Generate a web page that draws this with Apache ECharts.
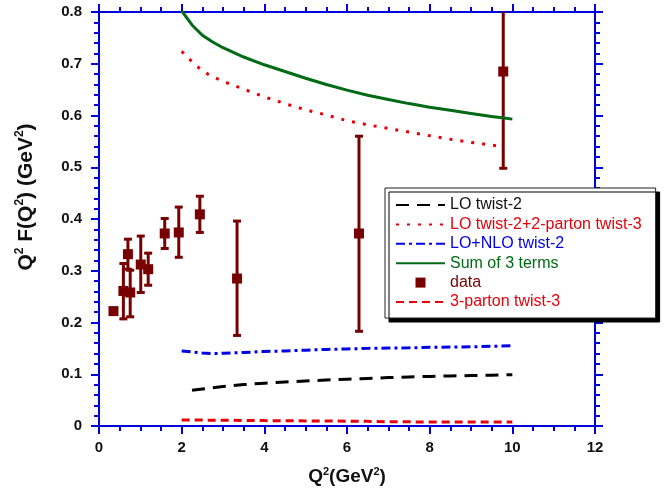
<!DOCTYPE html>
<html>
<head>
<meta charset="utf-8">
<script src="https://cdn.jsdelivr.net/npm/echarts@6/dist/echarts.min.js"></script>
<style>
  html, body { margin: 0; padding: 0; background: #fff; }
  #chart { width: 668px; height: 497px; }
</style>
</head>
<body>
<div id="chart"></div>
<script>
// measured points with error bars
var dataQ2 = [0.35, 0.59, 0.70, 0.755, 1.01, 1.19, 1.59, 1.93, 2.44, 3.34, 6.29, 9.78];
var dataF  = [0.222, 0.261, 0.332, 0.258, 0.312, 0.303, 0.372, 0.374, 0.409, 0.285, 0.372, 0.685];
var dataLo = [0.218, 0.207, 0.303, 0.211, 0.258, 0.272, 0.343, 0.326, 0.374, 0.175, 0.183, 0.498];
var dataHi = [0.226, 0.314, 0.361, 0.301, 0.367, 0.334, 0.401, 0.423, 0.444, 0.396, 0.560, 0.872];

// theory curves, on one Q2 grid (null = not drawn)
var curveQ2   = [2, 2.25, 2.5, 2.75, 3, 3.5, 4, 4.5, 5, 5.5, 6, 6.5, 7, 7.5, 8, 8.5, 9, 9.5, 9.75, 10];
var loTwist2  = [null, 0.069, 0.0715, 0.074, 0.0762, 0.080, 0.0828, 0.085, 0.087, 0.0888, 0.0905, 0.092, 0.0935, 0.0948, 0.0958, 0.0967, 0.0975, 0.0983, 0.0988, 0.0992];
var loPlus2p  = [0.724, 0.704, 0.686, 0.675, 0.666, 0.651, 0.636, 0.623, 0.611, 0.601, 0.590, 0.582, 0.575, 0.568, 0.561, 0.554, 0.548, 0.543, 0.540, null];
var nloTwist2 = [0.145, 0.143, 0.141, 0.140, 0.1405, 0.142, 0.144, 0.145, 0.1465, 0.148, 0.149, 0.150, 0.1505, 0.151, 0.152, 0.1525, 0.153, 0.154, 0.1545, 0.155];
var sum3      = [0.802, 0.775, 0.755, 0.742, 0.731, 0.713, 0.698, 0.685, 0.672, 0.660, 0.649, 0.639, 0.631, 0.623, 0.616, 0.610, 0.604, 0.598, 0.5955, 0.593];
var parton3   = [0.0116, 0.0115, 0.0114, 0.0113, 0.0112, 0.0108, 0.0104, 0.0101, 0.0099, 0.0097, 0.0094, 0.0090, 0.0082, 0.0080, 0.0078, 0.0078, 0.0077, 0.0077, 0.0076, 0.0076];

var legendNames = ['LO twist-2', 'LO twist-2+2-parton twist-3', 'LO+NLO twist-2', 'Sum of 3 terms', 'data', '3-parton twist-3'];

var BLUE = '#0000dd', RED = '#e5000b', DARKRED = '#780000', GREEN = '#006a14', LBLUE = '#0000e6';

function pairs(xs, ys) {
  var out = [];
  for (var i = 0; i < xs.length; i++) out.push([xs[i], ys[i] == null ? '-' : ys[i]]);
  return out;
}

var chart = echarts.init(document.getElementById('chart'));

var axisLine = { show: true, onZero: false, lineStyle: { color: BLUE, width: 2 } };
var axisTick = { show: true, inside: false, length: 8, lineStyle: { color: BLUE, width: 2 } };

var labelStyle = { color: '#111', fontSize: 15, fontWeight: 'bold', fontFamily: 'Liberation Sans' };
function titleRich(big, small) {
  return {
    b: { fontSize: big, fontWeight: 'bold', fontFamily: 'Liberation Sans', color: '#111', lineHeight: big + 3, verticalAlign: 'middle' },
    s: { fontSize: small, fontWeight: 'bold', fontFamily: 'Liberation Sans', color: '#111', verticalAlign: 'top' }
  };
}
var noSymbol = { opacity: 0 };

var option = {
  animation: false,
  backgroundColor: '#fff',
  grid: { left: 99, right: 73, top: 12, bottom: 71 },
  xAxis: [
    {
      type: 'value', min: 0, max: 12, interval: 2, position: 'bottom',
      axisLine: axisLine, axisTick: axisTick,
      minorTick: { show: true, splitNumber: 4, length: 5, lineStyle: { color: BLUE, width: 2 } },
      splitLine: { show: false },
      axisLabel: Object.assign({ margin: 14 }, labelStyle),
      name: '{b|Q}{s|2}{b|(GeV}{s|2}{b|)}',
      nameLocation: 'middle', nameGap: 40,
      nameTextStyle: { rich: titleRich(19, 11) }
    },
    {
      type: 'value', min: 0, max: 12, interval: 2, position: 'top',
      axisLine: axisLine, axisTick: axisTick,
      minorTick: { show: true, splitNumber: 4, length: 5, lineStyle: { color: BLUE, width: 2 } },
      axisLabel: { show: false }, splitLine: { show: false }
    }
  ],
  yAxis: [
    {
      type: 'value', min: 0, max: 0.8, interval: 0.1, position: 'left',
      axisLine: axisLine, axisTick: axisTick,
      minorTick: { show: true, splitNumber: 5, length: 5, lineStyle: { color: BLUE, width: 2 } },
      splitLine: { show: false },
      axisLabel: Object.assign({ margin: 17 }, labelStyle),
      name: '{b|Q}{s|2}{b| F(Q}{s|2}{b|) (GeV}{s|2}{b|)}',
      nameLocation: 'middle', nameRotate: 90, nameGap: 61,
      nameTextStyle: { rich: titleRich(21, 12), padding: [0, 0, 0, 44] }
    },
    {
      type: 'value', min: 0, max: 0.8, interval: 0.1, position: 'right',
      axisLine: axisLine, axisTick: axisTick,
      minorTick: { show: true, splitNumber: 5, length: 5, lineStyle: { color: BLUE, width: 2 } },
      splitLine: { show: false }, axisLabel: { show: false }
    }
  ],
  legend: {
    orient: 'vertical',
    left: 385, top: 188,
    padding: [9, 14, 8, 10],
    itemWidth: 49, itemHeight: 10, itemGap: 3.4,
    backgroundColor: '#fff',
    borderColor: '#222', borderWidth: 1,
    shadowColor: '#000', shadowBlur: 0, shadowOffsetX: 4, shadowOffsetY: 4,
    selectedMode: false,
    textStyle: { fontSize: 16, lineHeight: 16, fontFamily: 'Liberation Sans' },
    data: [
      { name: legendNames[0], textStyle: { color: '#111' }, itemStyle: noSymbol },
      { name: legendNames[1], textStyle: { color: RED }, itemStyle: noSymbol },
      { name: legendNames[2], textStyle: { color: LBLUE }, itemStyle: noSymbol },
      { name: legendNames[3], textStyle: { color: GREEN }, itemStyle: noSymbol },
      { name: legendNames[4], textStyle: { color: DARKRED }, icon: 'path://M0,0L10,0L10,10L0,10Z' },
      { name: legendNames[5], textStyle: { color: RED }, itemStyle: noSymbol }
    ]
  },
  series: [
    {
      name: legendNames[0], type: 'line', symbol: 'none', clip: true,
      data: pairs(curveQ2, loTwist2),
      lineStyle: { color: '#000', width: 3, type: [13, 8] },
      itemStyle: { color: '#000' }
    },
    {
      name: legendNames[1], type: 'line', symbol: 'none', clip: true,
      data: pairs(curveQ2, loPlus2p),
      lineStyle: { color: RED, width: 3, type: [3, 8] },
      itemStyle: { color: RED }
    },
    {
      name: legendNames[2], type: 'line', symbol: 'none', clip: true,
      data: pairs(curveQ2, nloTwist2),
      lineStyle: { color: LBLUE, width: 3, type: [9, 4, 3, 4] },
      itemStyle: { color: LBLUE }
    },
    {
      name: legendNames[3], type: 'line', symbol: 'none', clip: true,
      data: pairs(curveQ2, sum3),
      lineStyle: { color: GREEN, width: 3, type: 'solid' },
      itemStyle: { color: GREEN }
    },
    {
      name: legendNames[5], type: 'line', symbol: 'none', clip: true,
      data: pairs(curveQ2, parton3),
      lineStyle: { color: RED, width: 3, type: [8, 5] },
      itemStyle: { color: RED }
    },
    {
      name: 'errors', type: 'custom', clip: true, z: 3,
      data: dataQ2.map(function (q, i) { return [q, dataLo[i], dataHi[i]]; }),
      renderItem: function (params, api) {
        var lo = api.coord([api.value(0), api.value(1)]);
        var hi = api.coord([api.value(0), api.value(2)]);
        var w = 4;
        var st = { stroke: DARKRED, lineWidth: 3 };
        return {
          type: 'group',
          children: [
            { type: 'line', shape: { x1: lo[0], y1: lo[1], x2: hi[0], y2: hi[1] }, style: st },
            { type: 'line', shape: { x1: lo[0] - w, y1: lo[1], x2: lo[0] + w, y2: lo[1] }, style: st },
            { type: 'line', shape: { x1: hi[0] - w, y1: hi[1], x2: hi[0] + w, y2: hi[1] }, style: st }
          ]
        };
      }
    },
    {
      name: legendNames[4], type: 'scatter', symbol: 'rect', symbolSize: 10, z: 4,
      data: pairs(dataQ2, dataF),
      itemStyle: { color: DARKRED, opacity: 1 }
    }
  ]
};

chart.setOption(option);
</script>
</body>
</html>
